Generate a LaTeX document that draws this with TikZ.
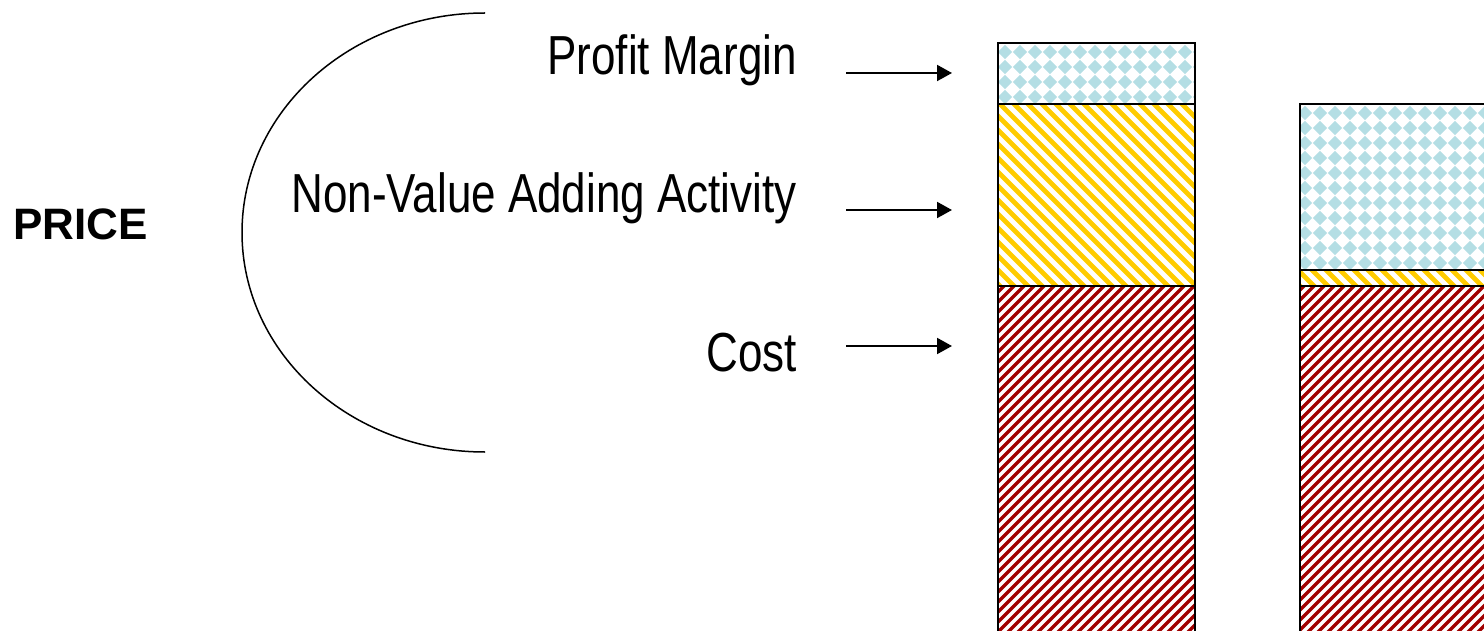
\documentclass[tikz,border=0pt]{standalone}
\usepackage{fontspec}
\setmainfont{Liberation Sans}
\newfontfamily\narrowfont{Liberation Sans}[FakeStretch=0.80]
\usetikzlibrary{arrows.meta}
\definecolor{costred}{RGB}{160,0,0}
\definecolor{nvagold}{RGB}{255,204,0}
\definecolor{profitblue}{RGB}{180,222,228}
\begin{document}
\begin{tikzpicture}[x=1pt,y=-1pt,
  lbl/.style={font=\narrowfont\fontsize{55}{60}\selectfont, anchor=base east, inner sep=0pt},
  pricelbl/.style={font=\bfseries\fontsize{44}{50}\selectfont, anchor=base west, inner sep=0pt},
  pointer/.style={line width=2pt, -{Triangle[length=15pt,width=16pt]}},
  barline/.style={line width=2pt, draw=black},
  costline/.style={draw=costred, line width=3.4pt},
  nvaline/.style={draw=nvagold, line width=4.8pt},
  dia/.style={fill=profitblue},
  bracket/.style={line width=1.5pt}]
\useasboundingbox (0,0) rectangle (1484,631);
\begin{scope}
\clip (0,0) rectangle (1484,631);
% ---- bar 1 ----
\begin{scope}
  \clip (998,43) rectangle (1195,104);
  \foreach \i in {0,...,13} \foreach \j in {0,...,4}
    \fill[dia] ({1005+15*\i},{52+15*\j}) ++(-7.2,0) -- ++(7.2,-7.2) -- ++(7.2,7.2) -- ++(-7.2,7.2) -- cycle;
\end{scope}
\begin{scope}
  \clip (998,104) rectangle (1195,286);
  \foreach \c in {700,714,...,1100}
    \draw[nvaline] ({\c+90},90) -- ({\c+300},300);
\end{scope}
\begin{scope}
  \clip (998,286) rectangle (1195,640);
  \foreach \c in {1280,1290,...,1840}
    \draw[costline] ({\c-650},650) -- ({\c-270},270);
\end{scope}
\draw[barline] (998,640) -- (998,43) -- (1195,43) -- (1195,640);
\draw[barline] (998,104) -- (1195,104);
\draw[barline] (998,286) -- (1195,286);
% ---- bar 2 ----
\begin{scope}
  \clip (1300,104) rectangle (1490,270);
  \foreach \i in {0,...,13} \foreach \j in {0,...,11}
    \fill[dia] ({1305+15*\i},{113+15*\j}) ++(-7.2,0) -- ++(7.2,-7.2) -- ++(7.2,7.2) -- ++(-7.2,7.2) -- cycle;
\end{scope}
\begin{scope}
  \clip (1300,270) rectangle (1490,286);
  \foreach \c in {1000,1014,...,1230}
    \draw[nvaline] ({\c+260},260) -- ({\c+300},300);
\end{scope}
\begin{scope}
  \clip (1300,286) rectangle (1490,640);
  \foreach \c in {1580,1590,...,2140}
    \draw[costline] ({\c-650},650) -- ({\c-270},270);
\end{scope}
\draw[barline] (1300,640) -- (1300,104) -- (1490,104);
\draw[barline] (1300,270) -- (1490,270);
\draw[barline] (1300,286) -- (1490,286);
\end{scope}
% ---- labels ----
\node[lbl] (profit) at (797,75) {Profit Margin};
\node[lbl] (nva) at (797,213) {Non-Value Adding Activity};
\node[lbl] (cost) at (797,371) {Cost};
\node[pricelbl] (price) at (13,240) {PRICE};
% ---- arrows ----
\coordinate (pa) at (846,73);  \coordinate (pb) at (952,73);
\coordinate (na) at (846,210); \coordinate (nb) at (952,210);
\coordinate (ca) at (846,346); \coordinate (cb) at (952,346);
\draw[pointer] (pa) -- (pb);
\draw[pointer] (na) -- (nb);
\draw[pointer] (ca) -- (cb);
% ---- bracket ----
\coordinate (arctop) at (485,13);
\draw[bracket] (arctop) arc[start angle=90, end angle=270, x radius=243pt, y radius=219.5pt];
\end{tikzpicture}
\end{document}
